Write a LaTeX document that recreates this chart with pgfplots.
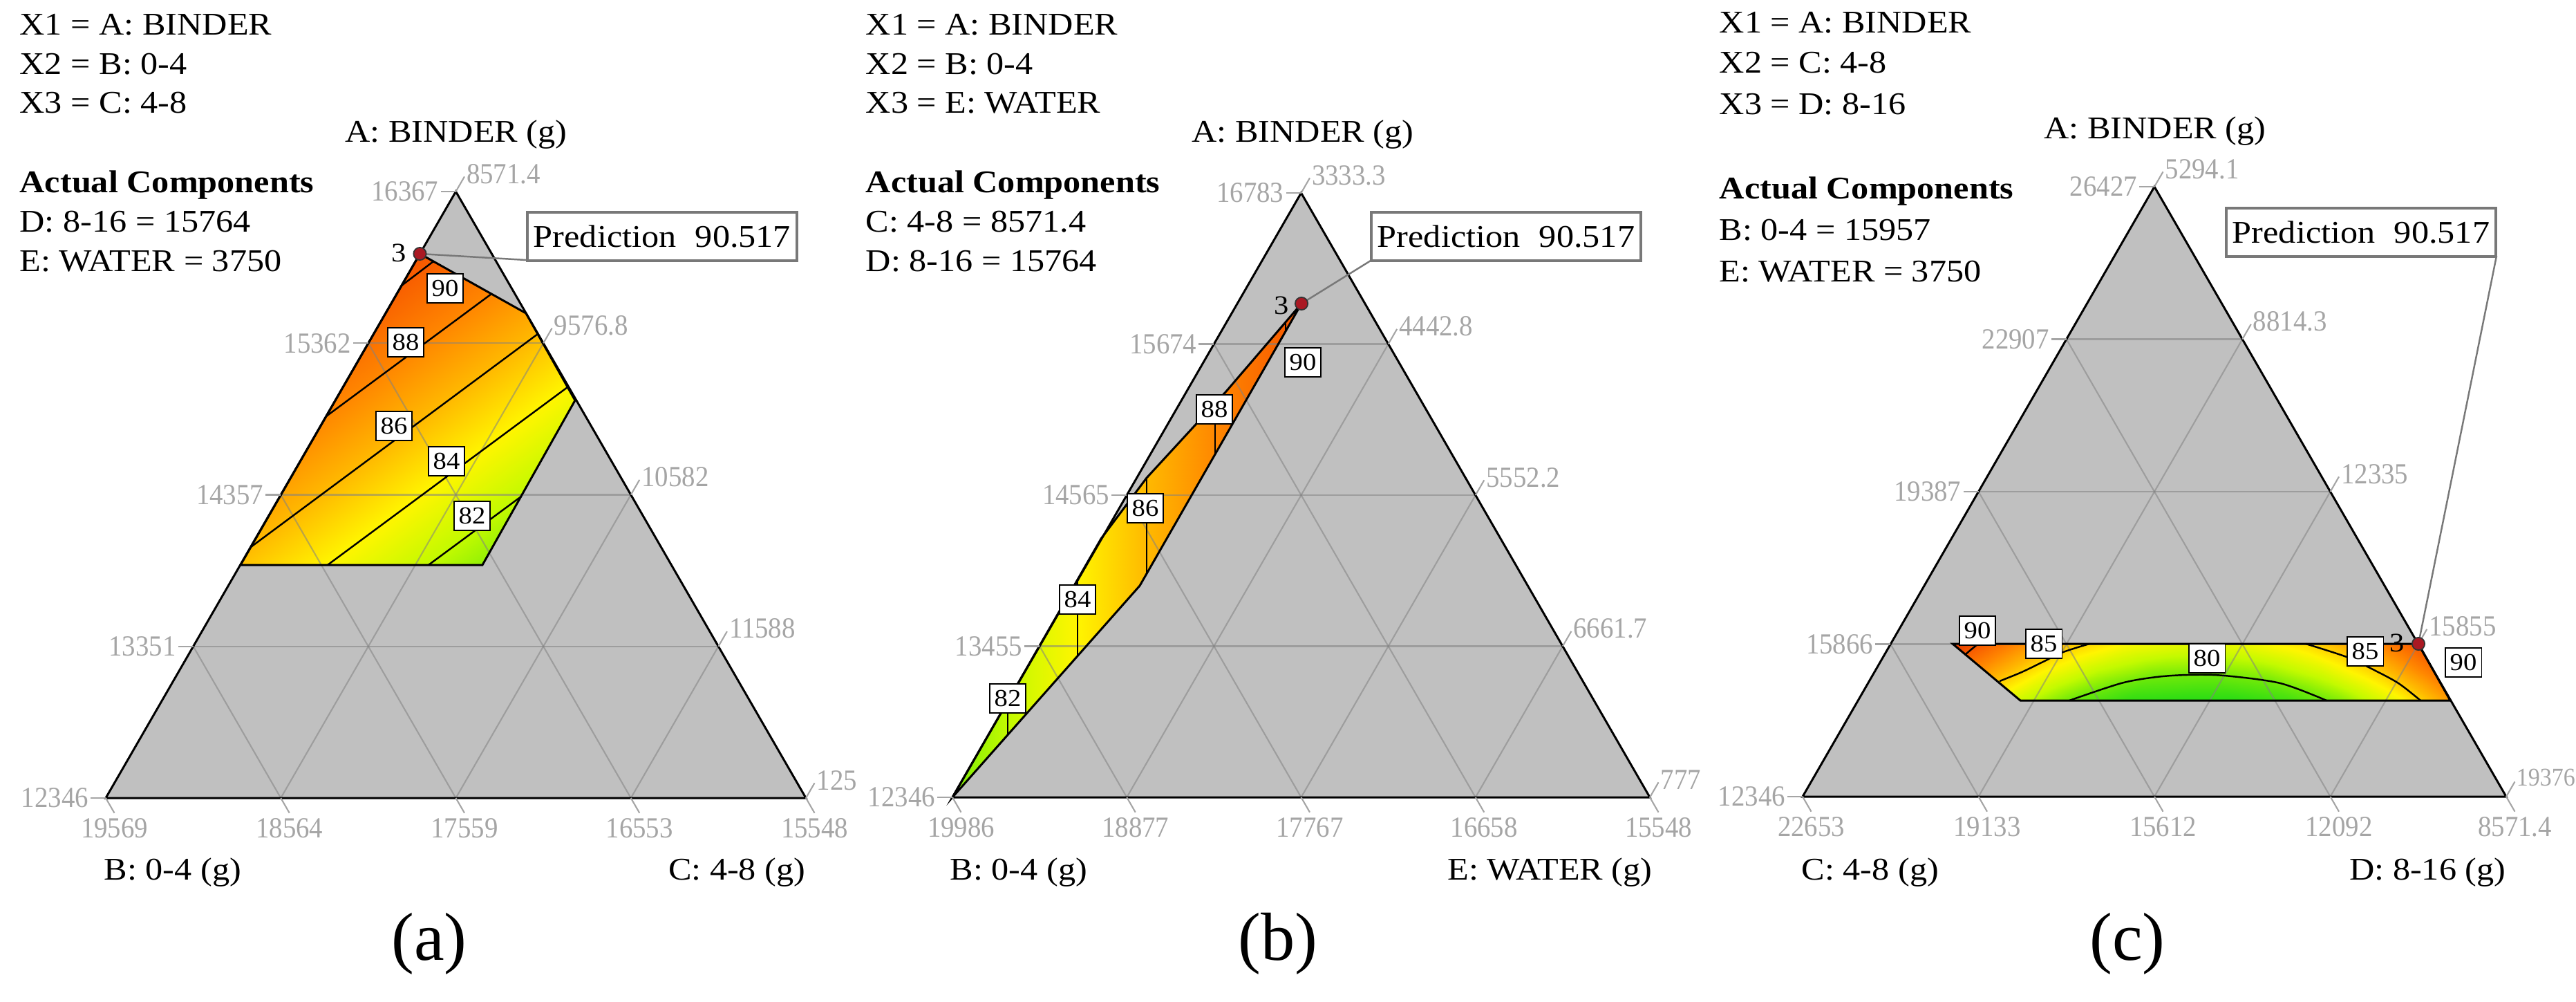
\documentclass[border=0pt]{standalone}
\usepackage{fontspec}
\setmainfont{Liberation Serif}[FakeStretch=1.1]
\newfontfamily\tickfont{Liberation Serif}[FakeStretch=0.92]
\newfontfamily\capfont{Liberation Serif}
\usepackage{pgfplots}
\pgfplotsset{compat=1.18}
\usetikzlibrary{calc}

\definecolor{trigray}{RGB}{192,192,192}
\definecolor{gridgray}{RGB}{130,130,130}
\definecolor{tickgray}{RGB}{165,165,165}
\definecolor{boxgray}{RGB}{120,120,120}
\definecolor{ptred}{RGB}{170,25,35}

\pgfplotsset{colormap={dx}{rgb255(0pt)=(40,220,20) rgb255(2pt)=(105,232,10)
  rgb255(4pt)=(195,250,0) rgb255(6pt)=(255,245,0) rgb255(8pt)=(255,185,0)
  rgb255(10pt)=(255,135,0) rgb255(12pt)=(248,95,0) rgb255(14pt)=(225,55,0)}}

\tikzset{
  txt/.style={font=\fontsize{13}{15}\selectfont, inner sep=0pt, anchor=base west},
  ttl/.style={font=\fontsize{13}{15}\selectfont, inner sep=0pt},
  tlab/.style={font=\tickfont\fontsize{12}{14}\selectfont, text=tickgray, inner sep=0.6pt},
  clab/.style={draw=black, fill=white, line width=0.5pt, font=\fontsize{10}{12}\selectfont,
    inner xsep=0.7mm, inner ysep=0.9mm},
  gridc/.style={draw=gridgray, line width=0.6pt, opacity=0.55},
  tickc/.style={draw=tickgray, line width=0.6pt},
  leader/.style={draw=boxgray, line width=0.7pt},
  predbox/.style={draw=boxgray, line width=1.1pt, fill=white, font=\fontsize{13}{15}\selectfont,
    minimum height=7mm, inner xsep=0.9mm},
  three/.style={font=\fontsize{11}{12}\selectfont, inner sep=0pt},
  sub/.style={font=\capfont\fontsize{28}{30}\selectfont, inner sep=0pt},
}
\pgfplotsset{
  contour line/.style={black, line width=0.7pt, no marks},
  outline/.style={black, line width=0.85pt, no marks},
}

% grid of a ternary panel, from the named corners <p>L, <p>R, <p>T
\newcommand\tgrid[1]{%
  \pgfplotsinvokeforeach{0.25,0.5,0.75}{%
    \draw[gridc] ($(#1L)!##1!(#1T)$) -- ($(#1R)!##1!(#1T)$);
    \draw[gridc] ($(#1L)!##1!(#1R)$) -- ($(#1R)!1-##1!(#1T)$);
    \draw[gridc] ($(#1L)!##1!(#1R)$) -- ($(#1L)!##1!(#1T)$);
  }}
\newcommand\lticks[6]{%
  \draw[tickc] (#1T) -- ++(-2.2mm,0mm) node[tlab,anchor=east]{#2};
  \draw[tickc] ($(#1L)!0.75!(#1T)$) -- ++(-2.2mm,0mm) node[tlab,anchor=east]{#3};
  \draw[tickc] ($(#1L)!0.5!(#1T)$) -- ++(-2.2mm,0mm) node[tlab,anchor=east]{#4};
  \draw[tickc] ($(#1L)!0.25!(#1T)$) -- ++(-2.2mm,0mm) node[tlab,anchor=east]{#5};
  \draw[tickc] (#1L) -- ++(-2.2mm,0mm) node[tlab,anchor=east]{#6};}
\newcommand\rticks[6]{%
  \draw[tickc] (#1T) -- ++(1.25mm,2.165mm) node[tlab,anchor=west,yshift=0.4mm]{#2};
  \draw[tickc] ($(#1T)!0.25!(#1R)$) -- ++(1.25mm,2.165mm) node[tlab,anchor=west,yshift=0.4mm]{#3};
  \draw[tickc] ($(#1T)!0.5!(#1R)$) -- ++(1.25mm,2.165mm) node[tlab,anchor=west,yshift=0.4mm]{#4};
  \draw[tickc] ($(#1T)!0.75!(#1R)$) -- ++(1.25mm,2.165mm) node[tlab,anchor=west,yshift=0.4mm]{#5};
  \draw[tickc] (#1R) -- ++(1.25mm,2.165mm) node[tlab,anchor=west,yshift=0.4mm]{#6};}
\newcommand\bticks[6]{%
  \draw[tickc] (#1L) -- ++(1.25mm,-2.165mm) node[tlab,anchor=north,yshift=-0.5mm]{#2};
  \draw[tickc] ($(#1L)!0.25!(#1R)$) -- ++(1.25mm,-2.165mm) node[tlab,anchor=north,yshift=-0.5mm]{#3};
  \draw[tickc] ($(#1L)!0.5!(#1R)$) -- ++(1.25mm,-2.165mm) node[tlab,anchor=north,yshift=-0.5mm]{#4};
  \draw[tickc] ($(#1L)!0.75!(#1R)$) -- ++(1.25mm,-2.165mm) node[tlab,anchor=north,yshift=-0.5mm]{#5};
  \draw[tickc] (#1R) -- ++(1.25mm,-2.165mm) node[tlab,anchor=north,yshift=-0.5mm]{#6};}

\begin{document}
\begin{tikzpicture}
\begin{axis}[
    scale only axis, width=372.7mm, height=144.9mm,
    xmin=0, xmax=3727, ymin=0, ymax=1449, y dir=reverse,
    hide axis, clip=false,
    colormap name=dx, point meta min=78, point meta max=92,
]
% ---------------- panel (a) ----------------
\coordinate (aL) at (axis cs:153,1154);
\coordinate (aR) at (axis cs:1166,1154);
\coordinate (aT) at (axis cs:659.5,277);
\addplot[fill=trigray, draw=none] coordinates {(153,1154)(1166,1154)(659.5,277)} -- cycle;
\addplot[patch, shader=interp, point meta=explicit] table[meta=v] {
x y v
348 817 85.7
607 367 90.5
761 453 86.8
348 817 85.7
761 453 86.8
832 579 83.5
348 817 85.7
832 579 83.5
698 817 80.9
};
\tgrid{a}
\addplot[contour line] coordinates {(581,413)(627,378)};
\addplot[contour line] coordinates {(472,602)(711,425)};
\addplot[contour line] coordinates {(363,791)(778,483)};
\addplot[contour line] coordinates {(474,817)(821,560)};
\addplot[contour line] coordinates {(620,817)(754,718)};
\addplot[outline] coordinates {(607.5,367)(761,453)(832,579)(698,817)(348,817)} -- cycle;
\addplot[outline] coordinates {(153,1154)(1166,1154)(659.5,277)} -- cycle;
\lticks{a}{16367}{15362}{14357}{13351}{12346}
\rticks{a}{8571.4}{9576.8}{10582}{11588}{125}
\bticks{a}{19569}{18564}{17559}{16553}{15548}
\node[clab] at (axis cs:644,417) {90};
\node[clab] at (axis cs:587,495) {88};
\node[clab] at (axis cs:570,616) {86};
\node[clab] at (axis cs:646,667) {84};
\node[clab] at (axis cs:683,746) {82};
\draw[leader] (axis cs:607.5,367) -- (axis cs:761,376);
\addplot[only marks, mark=*, mark size=2.6pt, mark options={fill=ptred, draw=black!80, line width=0.5pt}] coordinates {(607.5,367)};
\node[three] at (axis cs:577,366) {3};
\node[predbox] at (axis cs:958,342) {Prediction\hspace{0.6em}90.517};
\node[txt] at (axis cs:28,50) {X1 = A: BINDER};
\node[txt] at (axis cs:28,107) {X2 = B: 0-4};
\node[txt] at (axis cs:28,163) {X3 = C: 4-8};
\node[txt] at (axis cs:28,278) {\bfseries Actual Components};
\node[txt] at (axis cs:28,335) {D: 8-16 = 15764};
\node[txt] at (axis cs:28,392) {E: WATER = 3750};
\node[ttl, anchor=base] at (axis cs:660,205) {A: BINDER (g)};
\node[ttl, anchor=base west] at (axis cs:150,1272) {B: 0-4 (g)};
\node[ttl, anchor=base east] at (axis cs:1166,1272) {C: 4-8 (g)};
\node[sub] at (axis cs:621,1365) {(a)};
% ---------------- panel (b) ----------------
\coordinate (bL) at (axis cs:1378,1153);
\coordinate (bR) at (axis cs:2387,1153);
\coordinate (bT) at (axis cs:1882.5,279);
\addplot[fill=trigray, draw=none] coordinates {(1378,1153)(2387,1153)(1882.5,279)} -- cycle;
\addplot[patch, shader=interp, point meta=explicit] table[meta=v] {
x y v
1649 847 85.8
1883 439 90.5
1774 566 88.3
1649 847 85.8
1774 566 88.3
1659 691 86.0
1649 847 85.8
1659 691 86.0
1593 779 84.7
1649 847 85.8
1593 779 84.7
1378 1153 80.4
};
\tgrid{b}
\addplot[contour line] coordinates {(1860,466)(1860,479)};
\addplot[contour line] coordinates {(1758,583)(1758,657)};
\addplot[contour line] coordinates {(1659,691)(1659,830)};
\addplot[contour line] coordinates {(1559,838)(1559,949)};
\addplot[contour line] coordinates {(1458,1014)(1458,1063)};
\addplot[outline] coordinates {(1883,439)(1774,566)(1659,691)(1593,779)(1378,1153)(1649,847)} -- cycle;
\addplot[outline] coordinates {(1378,1153)(2387,1153)(1882.5,279)} -- cycle;
\lticks{b}{16783}{15674}{14565}{13455}{12346}
\rticks{b}{3333.3}{4442.8}{5552.2}{6661.7}{777}
\bticks{b}{19986}{18877}{17767}{16658}{15548}
\node[clab] at (axis cs:1885,524) {90};
\node[clab] at (axis cs:1757,592) {88};
\node[clab] at (axis cs:1657,735) {86};
\node[clab] at (axis cs:1559,867) {84};
\node[clab] at (axis cs:1458,1010) {82};
\draw[leader] (axis cs:1883,439) -- (axis cs:1983,377);
\addplot[only marks, mark=*, mark size=2.6pt, mark options={fill=ptred, draw=black!80, line width=0.5pt}] coordinates {(1883,439)};
\node[three] at (axis cs:1854,442) {3};
\node[predbox] at (axis cs:2179,342) {Prediction\hspace{0.6em}90.517};
\node[txt] at (axis cs:1252,50) {X1 = A: BINDER};
\node[txt] at (axis cs:1252,107) {X2 = B: 0-4};
\node[txt] at (axis cs:1252,163) {X3 = E: WATER};
\node[txt] at (axis cs:1252,278) {\bfseries Actual Components};
\node[txt] at (axis cs:1252,335) {C: 4-8 = 8571.4};
\node[txt] at (axis cs:1252,392) {D: 8-16 = 15764};
\node[ttl, anchor=base] at (axis cs:1885,205) {A: BINDER (g)};
\node[ttl, anchor=base west] at (axis cs:1374,1272) {B: 0-4 (g)};
\node[ttl, anchor=base east] at (axis cs:2391,1272) {E: WATER (g)};
\node[sub] at (axis cs:1849,1365) {(b)};
% ---------------- panel (c) ----------------
\coordinate (cL) at (axis cs:2608,1152);
\coordinate (cR) at (axis cs:3626,1152);
\coordinate (cT) at (axis cs:3117,270);
\addplot[fill=trigray, draw=none] coordinates {(2608,1152)(3626,1152)(3117,270)} -- cycle;
\addplot[patch, patch type=rectangle, mesh input=lattice, mesh/cols=9, shader=interp, point meta=explicit] table[meta=v] {
x y v
2825 931 92.23
2909.25 931 88.43
2993.5 931 85.63
3077.75 931 83.87
3162 931 83.13
3246.25 931 83.43
3330.5 931 84.75
3414.75 931 87.10
3499 931 90.48
2874 972 87.08
2955 972 83.97
3036 972 81.81
3117 972 80.59
3198 972 80.33
3279 972 81.01
3360 972 82.65
3441 972 85.24
3522 972 88.77
2923 1013 82.28
3000.75 1013 79.83
3078.5 1013 78.25
3156.25 1013 77.54
3234 1013 77.71
3311.75 1013 78.76
3389.5 1013 80.68
3467.25 1013 83.47
3545 1013 87.14
};
\tgrid{c}
\addplot[contour line] coordinates {(2862,931)(2851,940)(2844,946)};
\addplot[contour line, smooth] coordinates {(3023,931)(2985,943)(2956,957)(2925,972)(2893,985)};
\addplot[contour line, smooth] coordinates {(2994,1013)(3069,988)(3120,979)(3165,976)(3218,977)(3299,988)(3366,1013)};
\addplot[contour line, smooth] coordinates {(3336,931)(3395,950)(3433,968)(3470,988)(3502,1013)};
\addplot[outline] coordinates {(2825,931)(3499,931)(3545,1013)(2923,1013)} -- cycle;
\addplot[outline] coordinates {(2608,1152)(3626,1152)(3117,270)} -- cycle;
\lticks{c}{26427}{22907}{19387}{15866}{12346}
\rticks{c}{5294.1}{8814.3}{12335}{15855}{}
\node[tlab, font=\tickfont\fontsize{10.5}{12}\selectfont, anchor=west] at (axis cs:3638,1124) {19376};
\bticks{c}{22653}{19133}{15612}{12092}{8571.4}
\node[clab] at (axis cs:2861,912) {90};
\node[clab] at (axis cs:2957,931) {85};
\node[clab] at (axis cs:3193,952) {80};
\node[clab] at (axis cs:3422,942) {85};
\node[clab] at (axis cs:3564,958) {90};
\draw[leader] (axis cs:3499,931) -- (axis cs:3612,370);
\addplot[only marks, mark=*, mark size=2.6pt, mark options={fill=ptred, draw=black!80, line width=0.5pt}] coordinates {(3499,931)};
\node[three] at (axis cs:3468,930) {3};
\node[predbox] at (axis cs:3416,336) {Prediction\hspace{0.6em}90.517};
\node[txt] at (axis cs:2487,47) {X1 = A: BINDER};
\node[txt] at (axis cs:2487,105) {X2 = C: 4-8};
\node[txt] at (axis cs:2487,165) {X3 = D: 8-16};
\node[txt] at (axis cs:2487,287) {\bfseries Actual Components};
\node[txt] at (axis cs:2487,347) {B: 0-4 = 15957};
\node[txt] at (axis cs:2487,407) {E: WATER = 3750};
\node[ttl, anchor=base] at (axis cs:3118,200) {A: BINDER (g)};
\node[ttl, anchor=base west] at (axis cs:2606,1272) {C: 4-8 (g)};
\node[ttl, anchor=base east] at (axis cs:3626,1272) {D: 8-16 (g)};
\node[sub] at (axis cs:3078,1365) {(c)};
\end{axis}
\pgfresetboundingbox
\path[use as bounding box] (current axis.south west) rectangle (current axis.north east);
\end{tikzpicture}
\end{document}
